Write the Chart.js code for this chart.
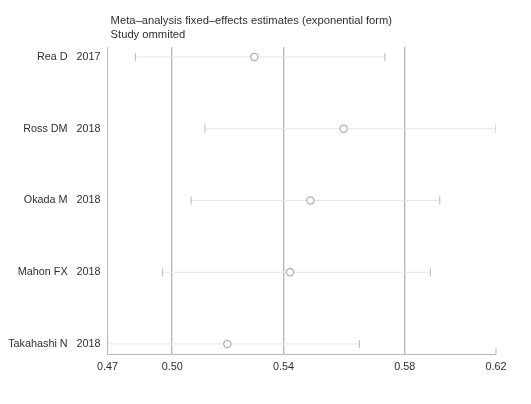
<!DOCTYPE html>
<html>
<head>
<meta charset="utf-8">
<script src="https://cdn.jsdelivr.net/npm/chart.js@4.4.1/dist/chart.umd.min.js"></script>
<style>
  html, body { margin: 0; padding: 0; background: #fff; }
  #wrap { width: 531px; height: 404px; }
</style>
</head>
<body>
<div id="wrap"><canvas id="chart"></canvas></div>
<script>
// studies (omitted one at a time), top to bottom
const studies = ["Rea D", "Ross DM", "Okada M", "Mahon FX", "Takahashi N"];
const years = ["2017", "2018", "2018", "2018", "2018"];
const estimates = [0.5268, 0.5601, 0.5477, 0.5401, 0.5167];
const lowerCI = [0.4824, 0.5083, 0.5032, 0.4925, 0.4720];
const upperCI = [0.5755, 0.6170, 0.5960, 0.5925, 0.5660];

// x axis: first/last are min lower / max upper, middle three = overall CI and estimate
const tickValues = [0.4720, 0.4961, 0.5377, 0.5829, 0.6170];
const tickLabels = ["0.47", "0.50", "0.54", "0.58", "0.62"];

const titleLines = ["Meta\u2013analysis fixed\u2013effects estimates (exponential form)", "Study ommited"];

const FONT = "'Liberation Sans', Arial, sans-serif";
const TEXT = "#2e2e2e";
const AXIS = "#b8b8b8";

const circles = {
    type: 'scatter',
    data: estimates.map((v, i) => ({ x: v, y: i })),
    pointStyle: 'circle',
    pointRadius: 3.6,
    pointBorderWidth: 1.2,
    pointBorderColor: '#ababab',
    pointBackgroundColor: '#fff',
    showLine: false
};

const whiskers = studies.map((s, i) => ({
    type: 'line',
    data: [{ x: lowerCI[i], y: i }, { x: upperCI[i], y: i }],
    borderColor: '#e6e6e6',
    borderWidth: 1,
    pointStyle: 'line',
    rotation: 90,
    pointRadius: 4,
    pointBorderColor: '#c4c4c4',
    pointBorderWidth: 1.2
}));

// title text + small upward tick at the right end of the x axis
const decor = {
    id: 'decor',
    afterDraw(chart) {
        const ctx = chart.ctx;
        const area = chart.chartArea;
        ctx.save();
        ctx.fillStyle = TEXT;
        ctx.font = "11.2px " + FONT;
        ctx.textBaseline = 'middle';
        ctx.fillText(titleLines[0], area.left + 3, 21);
        ctx.fillText(titleLines[1], area.left + 3, 35);
        const xs = chart.scales.x;
        const px = xs.getPixelForValue(tickValues[tickValues.length - 1]);
        ctx.strokeStyle = AXIS;
        ctx.lineWidth = 1;
        ctx.beginPath();
        ctx.moveTo(px, area.bottom);
        ctx.lineTo(px, area.bottom - 6);
        ctx.stroke();
        ctx.restore();
    }
};

new Chart(document.getElementById('chart'), {
    data: { datasets: [circles, ...whiskers] },
    options: {
        responsive: true,
        maintainAspectRatio: false,
        animation: false,
        layout: { padding: { top: 47, right: 35, left: 0, bottom: 0 } },
        plugins: { legend: { display: false }, tooltip: { enabled: false } },
        scales: {
            x: {
                type: 'linear',
                min: tickValues[0],
                max: tickValues[tickValues.length - 1],
                afterBuildTicks: (scale) => { scale.ticks = tickValues.map(v => ({ value: v })); },
                afterFit: (scale) => { scale.height = 50; },
                ticks: {
                    autoSkip: false,
                    maxRotation: 0,
                    padding: 7,
                    color: TEXT,
                    font: { family: FONT, size: 10.8 },
                    callback: (v, i) => tickLabels[i]
                },
                grid: {
                    drawTicks: false,
                    color: (c) => (c.index > 0 && c.index < tickValues.length - 1) ? AXIS : 'rgba(0,0,0,0)',
                    lineWidth: 1.4
                },
                border: { display: true, color: AXIS, width: 1 }
            },
            y: {
                type: 'linear',
                reverse: true,
                min: -0.14,
                max: studies.length - 1 + 0.14,
                afterBuildTicks: (scale) => { scale.ticks = studies.map((s, i) => ({ value: i })); },
                afterFit: (scale) => { scale.width = 107.6; },
                ticks: {
                    autoSkip: false,
                    padding: 7,
                    color: TEXT,
                    font: { family: FONT, size: 10.8 },
                    callback: (v) => studies[v] + "   " + years[v]
                },
                grid: { display: false, drawTicks: false },
                border: { display: true, color: AXIS, width: 1 }
            }
        }
    },
    plugins: [decor]
});
</script>
</body>
</html>
